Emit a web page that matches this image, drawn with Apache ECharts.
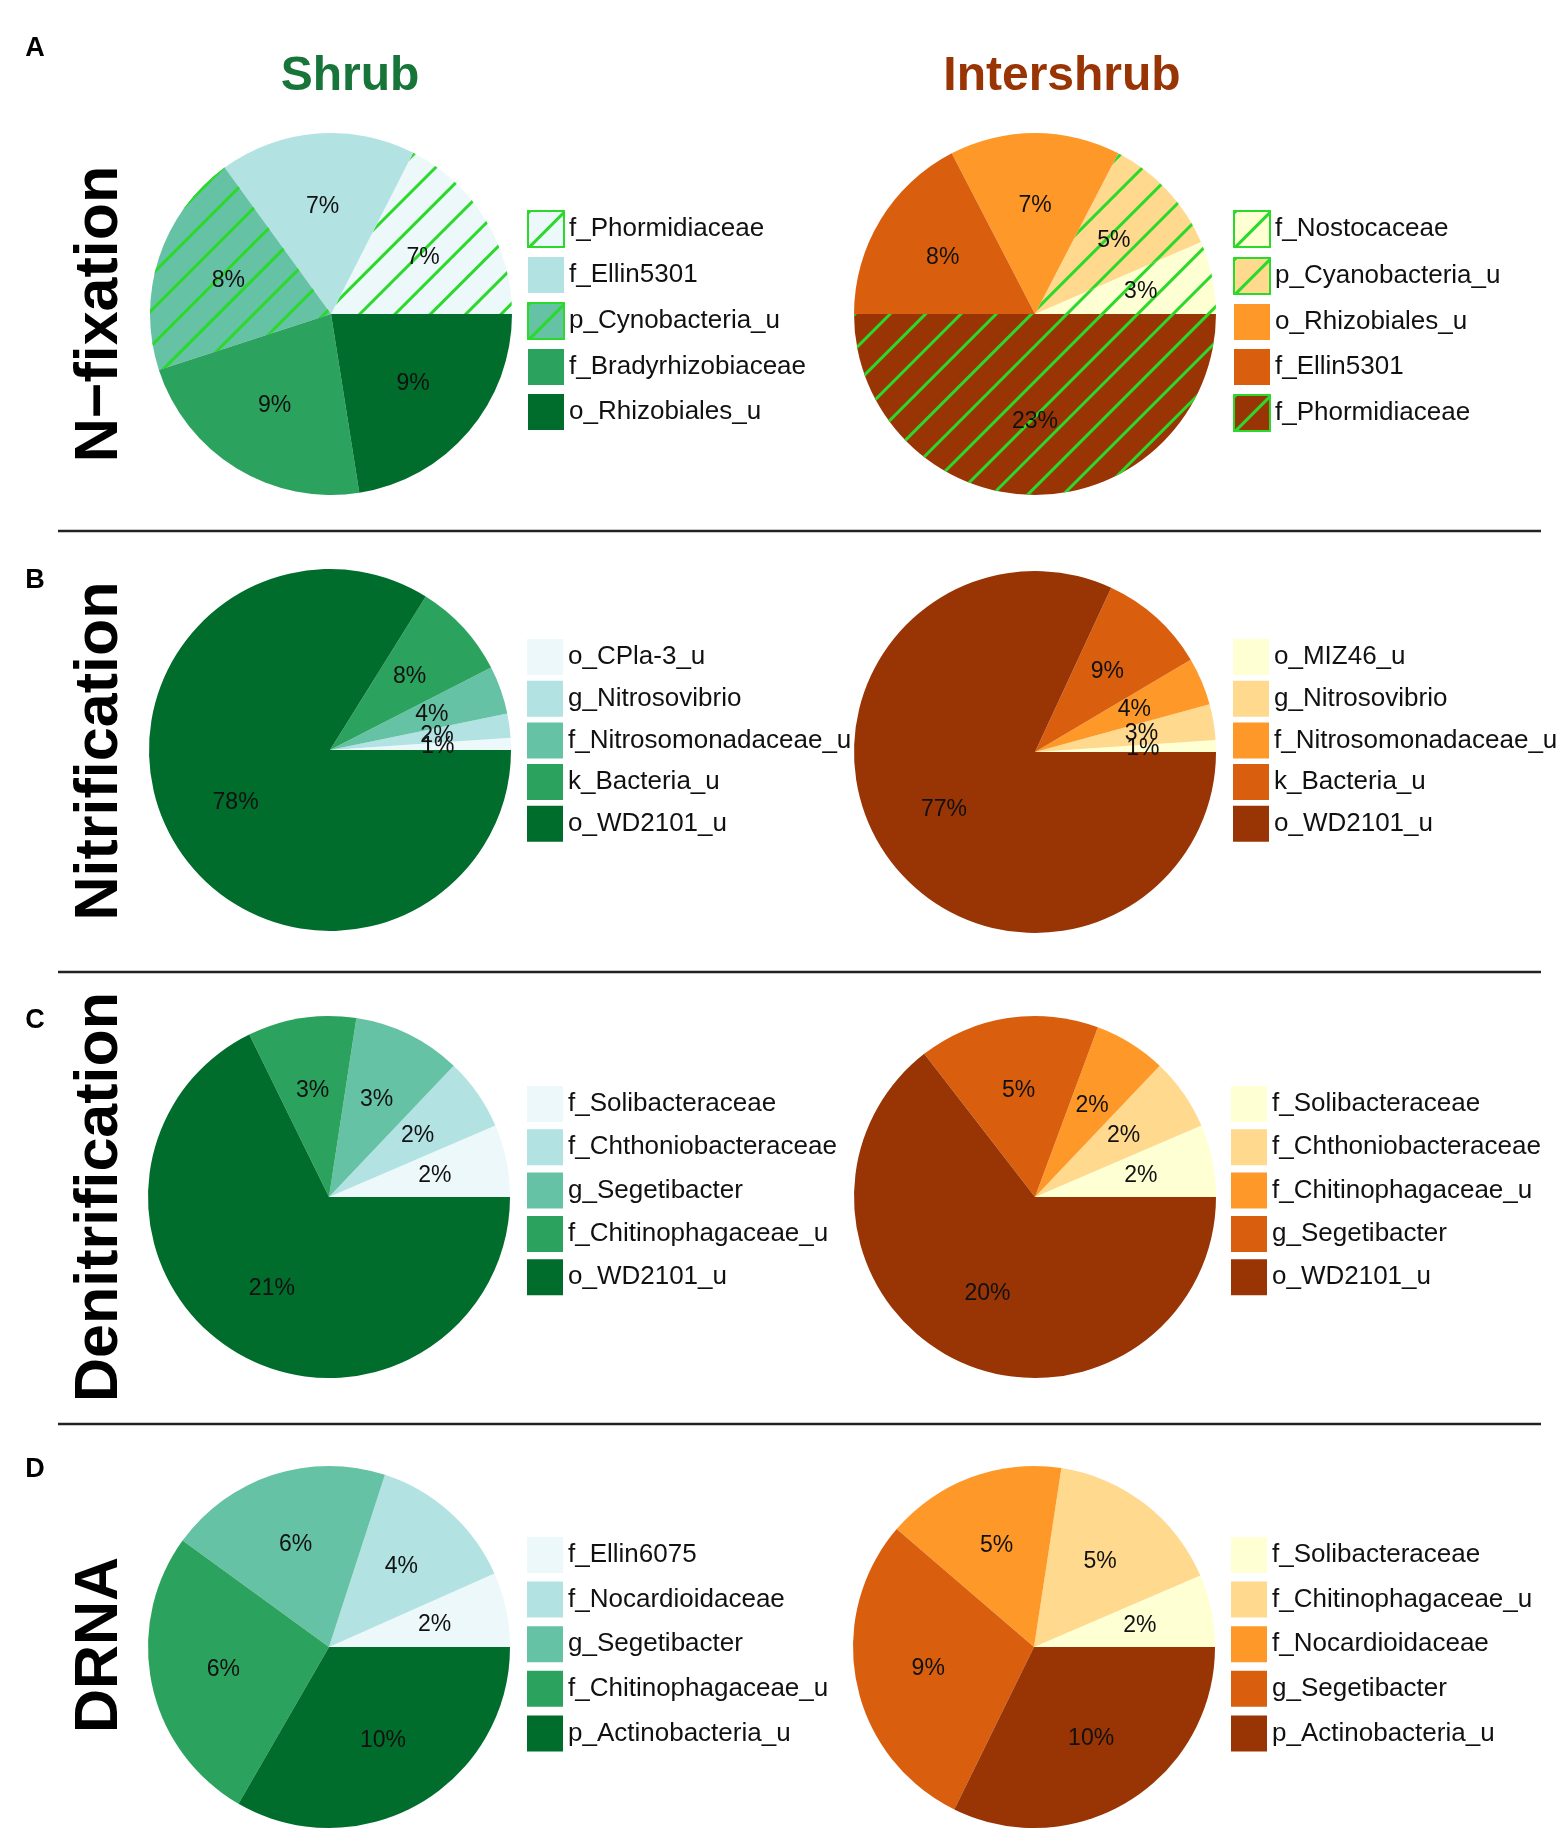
<!DOCTYPE html>
<html>
<head>
<meta charset="utf-8">
<script src="https://cdn.jsdelivr.net/npm/echarts@6/dist/echarts.min.js"></script>
<style>
html, body { margin: 0; padding: 0; background: #fff; }
#chart { width: 1562px; height: 1842px; }
</style>
</head>
<body>
<div id="chart"></div>
<script>
// slices listed counter-clockwise from 3 o'clock, same order as the legends
var nfixShrubNames = ['f_Phormidiaceae', 'f_Ellin5301', 'p_Cynobacteria_u', 'f_Bradyrhizobiaceae', 'o_Rhizobiales_u'];
var nfixShrubValues = [7, 7, 8, 9, 9];
var nfixInterNames = ['f_Nostocaceae', 'p_Cyanobacteria_u', 'o_Rhizobiales_u', 'f_Ellin5301', 'f_Phormidiaceae'];
var nfixInterValues = [3, 5, 7, 8, 23];

var nitShrubNames = ['o_CPla-3_u', 'g_Nitrosovibrio', 'f_Nitrosomonadaceae_u', 'k_Bacteria_u', 'o_WD2101_u'];
var nitShrubValues = [1, 2, 4, 8, 78];
var nitInterNames = ['o_MIZ46_u', 'g_Nitrosovibrio', 'f_Nitrosomonadaceae_u', 'k_Bacteria_u', 'o_WD2101_u'];
var nitInterValues = [1, 3, 4, 9, 77];

var denShrubNames = ['f_Solibacteraceae', 'f_Chthoniobacteraceae', 'g_Segetibacter', 'f_Chitinophagaceae_u', 'o_WD2101_u'];
var denShrubValues = [2, 2, 3, 3, 21];
var denInterNames = ['f_Solibacteraceae', 'f_Chthoniobacteraceae', 'f_Chitinophagaceae_u', 'g_Segetibacter', 'o_WD2101_u'];
var denInterValues = [2, 2, 2, 5, 20];

var drnaShrubNames = ['f_Ellin6075', 'f_Nocardioidaceae', 'g_Segetibacter', 'f_Chitinophagaceae_u', 'p_Actinobacteria_u'];
var drnaShrubValues = [2, 4, 6, 8, 10];
// 4th slice is drawn as 8 units but printed as 6% in the figure
var drnaShrubLabels = ['2%', '4%', '6%', '6%', '10%'];
var drnaInterNames = ['f_Solibacteraceae', 'f_Chitinophagaceae_u', 'f_Nocardioidaceae', 'g_Segetibacter', 'p_Actinobacteria_u'];
var drnaInterValues = [2, 5, 5, 9, 10];

var rowTitles = ['N\u2212fixation', 'Nitrification', 'Denitrification', 'DRNA'];
var panelLetters = ['A', 'B', 'C', 'D'];
var columnTitles = ['Shrub', 'Intershrub'];

// styles
var greens = ['#edf8fb', '#b2e2e2', '#66c2a4', '#2ca25f', '#006d2c'];
var browns = ['#ffffd4', '#fed98e', '#fe9929', '#d95f0e', '#993404'];
var nfixShrubHatch = [true, false, true, false, false];
var nfixInterHatch = [true, true, false, false, true];
var HATCH = '#2bd92b';
var FONT = '"Liberation Sans", Arial, sans-serif';
var R = 181;

var hatchDecal = {
  symbol: 'rect', symbolSize: 1, color: HATCH,
  dashArrayX: [20, 0], dashArrayY: [3, 22],
  rotation: -Math.PI / 4
};

var panels = [
  { id: 'a1', names: nfixShrubNames, values: nfixShrubValues, colors: greens, hatch: nfixShrubHatch, center: [331, 314], legend: [527, 210, 9] },
  { id: 'a2', names: nfixInterNames, values: nfixInterValues, colors: browns, hatch: nfixInterHatch, center: [1035, 314], legend: [1233, 210, 9] },
  { id: 'b1', names: nitShrubNames, values: nitShrubValues, colors: greens, center: [330, 750], legend: [527, 639, 5.7] },
  { id: 'b2', names: nitInterNames, values: nitInterValues, colors: browns, center: [1035, 752], legend: [1233, 639, 5.7] },
  { id: 'c1', names: denShrubNames, values: denShrubValues, colors: greens, center: [329, 1197], legend: [527, 1086, 7.3] },
  { id: 'c2', names: denInterNames, values: denInterValues, colors: browns, center: [1035, 1197], legend: [1231, 1086, 7.3] },
  { id: 'd1', names: drnaShrubNames, values: drnaShrubValues, labels: drnaShrubLabels, colors: greens, center: [329, 1647], legend: [527, 1537, 8.6] },
  { id: 'd2', names: drnaInterNames, values: drnaInterValues, colors: browns, center: [1034, 1647], legend: [1231, 1537, 8.6] }
];

var series = [];
var labelSeries = [];
var legends = [];

panels.forEach(function (p) {
  var data = p.names.map(function (n, k) {
    var item = { name: p.id + '|' + n, value: p.values[k], itemStyle: { color: p.colors[k] } };
    if (p.hatch && p.hatch[k]) item.itemStyle.decal = hatchDecal;
    return item;
  });
  series.push({
    type: 'pie', center: p.center, radius: R,
    startAngle: 0, clockwise: false, silent: true,
    itemStyle: { borderWidth: 0 },
    label: { show: false }, labelLine: { show: false },
    data: data
  });
  // transparent ring on top, only to place the percentages a bit further out
  labelSeries.push({
    type: 'pie', center: p.center, radius: [R * 0.16, R],
    startAngle: 0, clockwise: false, silent: true,
    avoidLabelOverlap: false,
    labelLayout: { hideOverlap: false },
    itemStyle: { color: 'rgba(0,0,0,0)', borderWidth: 0 },
    label: {
      show: true, position: 'inside', fontSize: 23, color: '#111', fontFamily: FONT,
      formatter: function (prm) {
        return p.labels ? p.labels[prm.dataIndex] : prm.value + '%';
      }
    },
    labelLine: { show: false },
    data: p.names.map(function (n, k) { return { name: p.id + '|' + n, value: p.values[k] }; })
  });
  legends.push({
    orient: 'vertical', left: p.legend[0], top: p.legend[1], itemGap: p.legend[2],
    padding: 0, itemWidth: 36, itemHeight: 36, icon: 'rect', selectedMode: false,
    textStyle: { fontSize: 26, color: '#111', fontFamily: FONT },
    formatter: function (name) { return name.split('|')[1]; },
    data: p.names.map(function (n, k) {
      var d = { name: p.id + '|' + n };
      if (p.hatch && p.hatch[k]) d.itemStyle = { borderColor: HATCH, borderWidth: 2 };
      return d;
    })
  });
});

function txt(s, x, y, font, fill, rot) {
  return {
    type: 'text', x: x, y: y, rotation: rot || 0, silent: true,
    style: { text: s, font: font, fill: fill, align: 'center', verticalAlign: 'middle', textAlign: 'center', textVerticalAlign: 'middle' }
  };
}
function hline(y) {
  return { type: 'line', silent: true, shape: { x1: 58, y1: y, x2: 1541, y2: y }, style: { stroke: '#222', lineWidth: 2.5 } };
}

var rowY = [314, 751, 1197, 1645];
var letterY = [49, 581, 1021, 1470];
var graphics = [
  txt(columnTitles[0], 350, 77, 'bold 48px ' + FONT, '#18753a'),
  txt(columnTitles[1], 1062, 77, 'bold 48px ' + FONT, '#993404'),
  hline(531), hline(972), hline(1424)
];
rowTitles.forEach(function (t, i) {
  graphics.push(txt(t, 100, rowY[i], 'bold 61px ' + FONT, '#000', Math.PI / 2));
  graphics.push(txt(panelLetters[i], 35, letterY[i], 'bold 27px ' + FONT, '#000'));
});

var chart = echarts.init(document.getElementById('chart'), null, { renderer: 'canvas' });
chart.setOption({
  animation: false,
  backgroundColor: '#fff',
  legend: legends,
  series: series.concat(labelSeries),
  graphic: graphics
});
window.addEventListener('resize', function () { chart.resize(); });
</script>
</body>
</html>
